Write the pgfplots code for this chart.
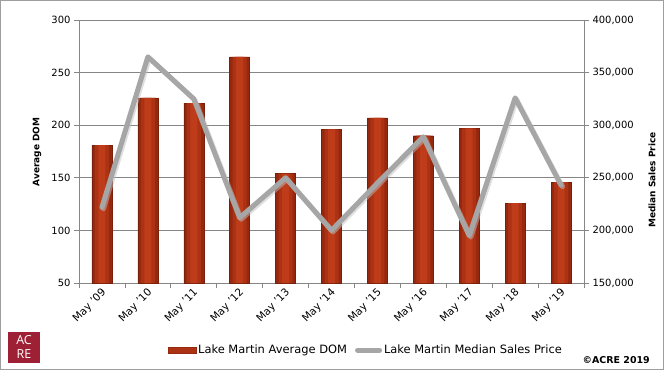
\documentclass[border=0pt]{standalone}
\usepackage{fontspec}
\setmainfont{DejaVu Sans}
\newfontfamily\logofont{Open Sans}
\usepackage{pgfplots}
\pgfplotsset{compat=1.18}
\definecolor{barred}{RGB}{178,52,22}
\definecolor{bardark}{RGB}{150,40,15}
\definecolor{barmid}{RGB}{172,50,20}
\definecolor{barlight}{RGB}{190,60,26}
\definecolor{linegray}{RGB}{166,166,166}
\definecolor{gridgray}{RGB}{134,134,134}
\definecolor{acre}{RGB}{158,32,52}
\pgfplotstableread{
x dom price
0 181 222000
1 226 365000
2 221 325000
3 265 212000
4 154 250000
5 196 200000
6 207 245000
7 190 289000
8 197 195000
9 126 326000
10 146 243000
}\datatable
\begin{document}
\begin{tikzpicture}[x=1bp,y=1bp]
\draw[gridgray!80, line width=1bp] (0.5,0.5) rectangle (663.5,369.5);
\begin{axis}[at={(79bp,87bp)}, anchor=south west, scale only axis,
  width=505bp, height=263bp,
  xmin=-0.5, xmax=10.5, ymin=50, ymax=300, ytick={50,100,...,300},
  axis y line*=left, axis x line*=bottom,
  axis line style={gridgray, line width=0.8bp},
  xtick={0,...,10},
  xticklabels={May '09,May '10,May '11,May '12,May '13,May '14,May '15,May '16,May '17,May '18,May '19},
  minor xtick={-0.5,0.5,...,10.5},
  major x tick style={draw=none},
  minor x tick style={gridgray, line width=0.8bp},
  y tick style={gridgray, line width=0.8bp},
  tick align=outside, major tick length=5bp, minor tick length=5bp,
  ymajorgrids, grid style={gridgray, line width=0.8bp},
  tick label style={font=\fontsize{10}{12}\selectfont},
  x tick label style={rotate=45, anchor=east, yshift=-4bp, xshift=3bp, font=\fontsize{10.5}{12}\selectfont},
  /pgf/number format/assume math mode=true,
  clip=false,
]
\addplot[ybar, bar shift=0pt, bar width=20bp, draw=bardark!80!black, line width=0.4bp, fill=bardark]
  table[x=x, y=dom] {\datatable};
\addplot[ybar, bar shift=0pt, bar width=14bp, draw=none, fill=barmid]
  table[x=x, y=dom] {\datatable};
\addplot[ybar, bar shift=0pt, bar width=7bp, draw=none, fill=barlight]
  table[x=x, y=dom] {\datatable};
\end{axis}
\begin{axis}[at={(79bp,87bp)}, anchor=south west, scale only axis,
  width=505bp, height=263bp,
  xmin=-0.5, xmax=10.5, ymin=150000, ymax=400000,
  ytick={150000,200000,...,400000},
  axis y line*=right, hide x axis, xtick=\empty,
  axis line style={gridgray, line width=0.8bp},
  y tick style={gridgray, line width=0.8bp},
  tick align=outside, major tick length=5bp,
  scaled y ticks=false,
  yticklabel style={/pgf/number format/.cd, fixed, 1000 sep={,}},
  tick label style={font=\fontsize{10}{12}\selectfont},
  /pgf/number format/assume math mode=true,
  legend style={at={(0.568,-0.255)}, anchor=center, draw=none,
    font=\fontsize{11.5}{13}\selectfont, legend columns=2,
    /tikz/every even column/.append style={column sep=6bp}},
  legend cell align=left,
  clip=false,
]
\addlegendimage{legend image code/.code={\fill[barmid, draw=bardark] (-2bp,-3bp) rectangle (26bp,3bp);}}
\addlegendentry{Lake Martin Average DOM}
\addplot[black!25, opacity=0.5, line width=5bp, line join=round, line cap=round, xshift=1.5bp, yshift=-1.5bp, forget plot]
  table[x=x, y=price] {\datatable};
\addplot[linegray, line width=5bp, line join=round, line cap=round,
  legend image code/.code={\draw[linegray, line width=5bp, line cap=round] (2bp,0bp) -- (24bp,0bp);}]
  table[x=x, y=price] {\datatable};
\addlegendentry{Lake Martin Median Sales Price}
\end{axis}
\node[rotate=90, font=\bfseries\fontsize{9}{11}\selectfont] at (37,218) {Average DOM};
\node[rotate=90, font=\bfseries\fontsize{9}{11}\selectfont] at (652,190) {Median Sales Price};
\fill[acre] (8,7) rectangle (40,38);
\node[white, font=\logofont\fontsize{12.5}{12.5}\selectfont, inner sep=0pt] at (24,29.5) {AC};
\node[white, font=\logofont\fontsize{12.5}{12.5}\selectfont, inner sep=0pt] at (24,16) {RE};
\node[anchor=east, font=\bfseries\fontsize{9.5}{11}\selectfont, inner sep=0pt] at (650,9.5) {©ACRE 2019};
\end{tikzpicture}
\end{document}
